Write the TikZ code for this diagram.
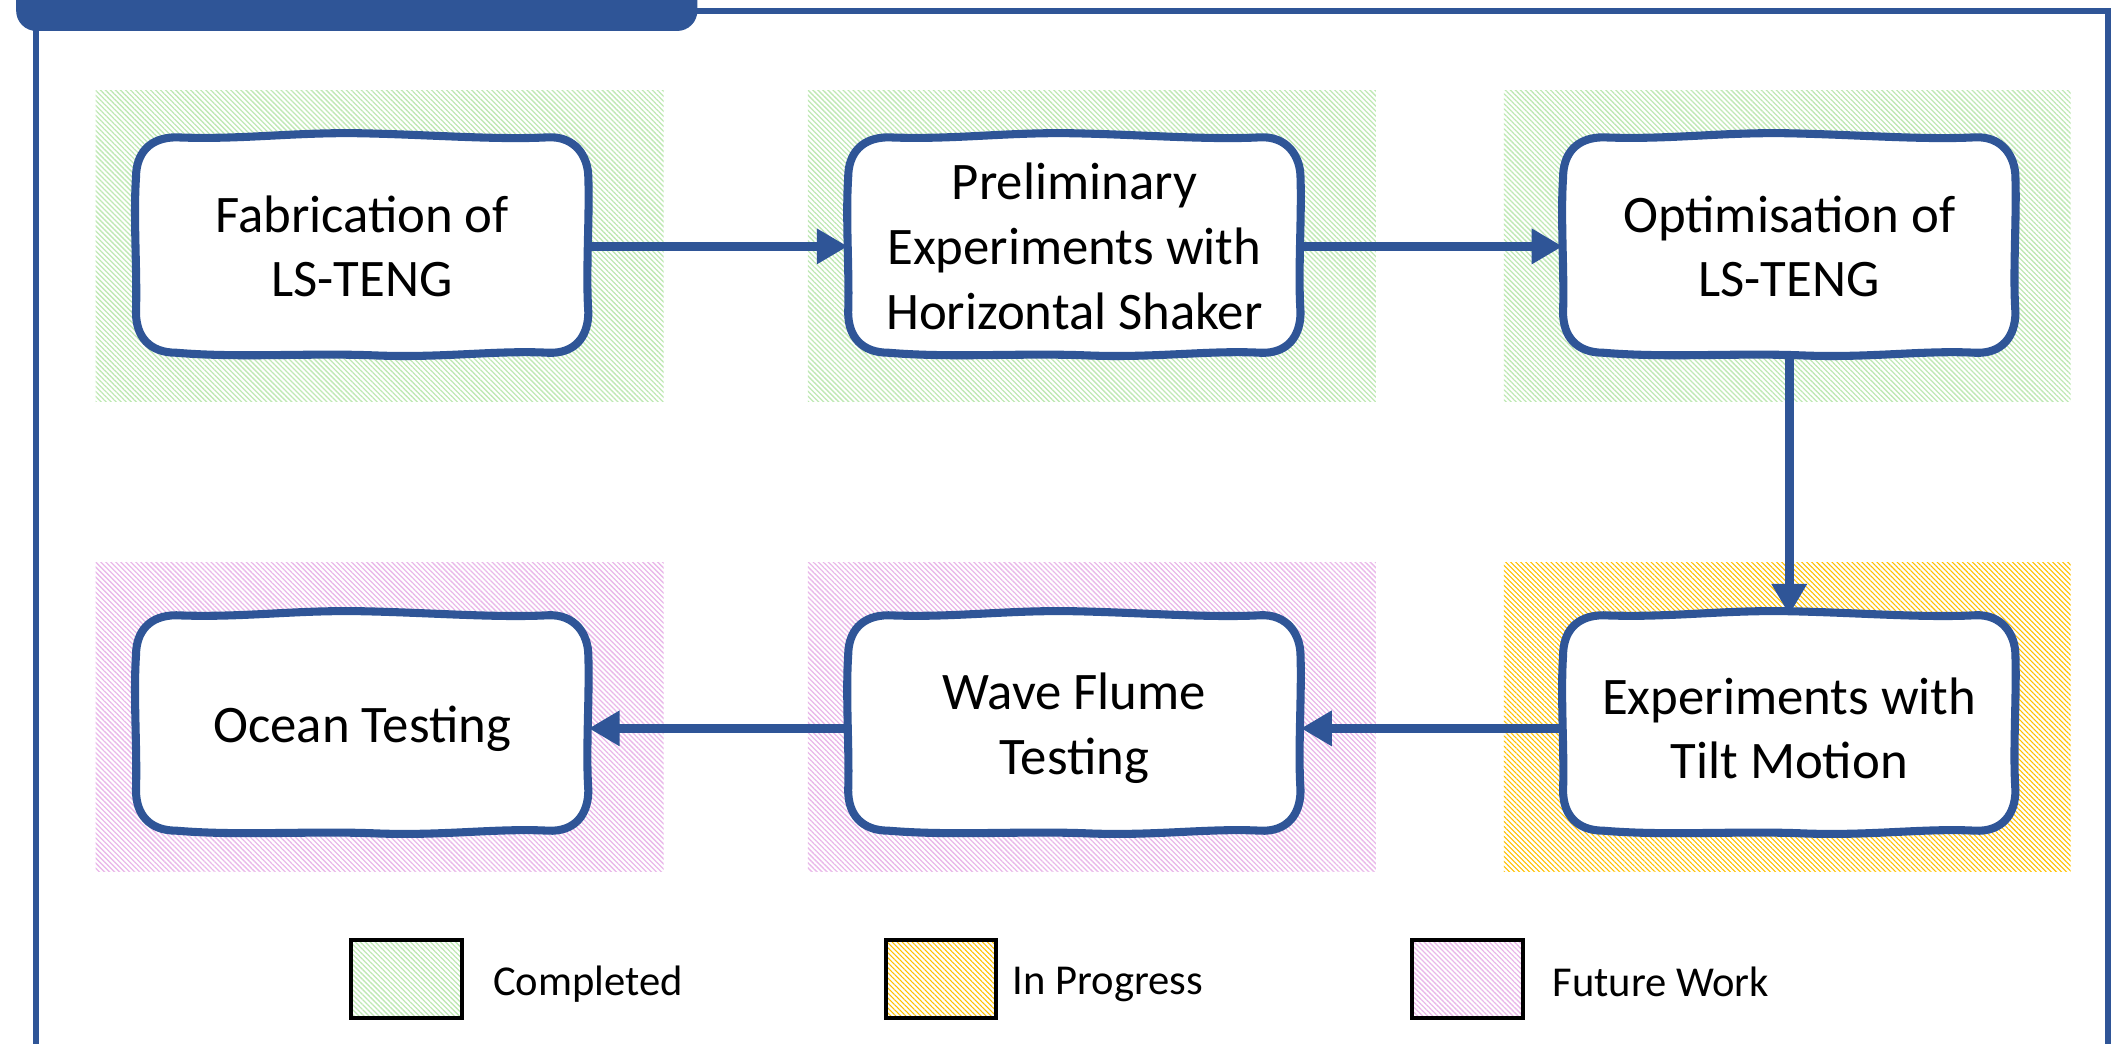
\documentclass[tikz,border=0pt]{standalone}
\usepackage{fontspec}
\setmainfont{Carlito}
\usetikzlibrary{arrows.meta,patterns.meta}
\definecolor{frameblue}{HTML}{2F5597}
\definecolor{donegreen}{HTML}{BFE8B4}
\definecolor{busyyellow}{HTML}{FFC000}
\definecolor{laterpink}{HTML}{E9B8E9}
\tikzset{
  boxline/.style={draw=frameblue, line width=0.12cm, fill=white, line join=round},
  card/.style={shape=rectangle, minimum width=6.72cm, minimum height=3.2cm, inner sep=0pt,
    align=center, font=\fontsize{22.3}{27.3}\selectfont},
  flow/.style={draw=frameblue, line width=0.14cm, -{Triangle[length=0.46cm,width=0.5cm]}},
  hatchgreen/.style={pattern={Lines[angle=-45,distance=1.5pt,line width=0.55pt]}, pattern color=donegreen},
  hatchyellow/.style={pattern={Lines[angle=-45,distance=1.5pt,line width=0.45pt]}, pattern color=busyyellow},
  hatchpink/.style={pattern={Lines[angle=-45,distance=1.5pt,line width=0.55pt]}, pattern color=laterpink},
  keybox/.style={shape=rectangle, draw=black, line width=0.06cm, minimum width=1.64cm, minimum height=1.16cm, inner sep=0pt},
  keytext/.style={anchor=west, inner sep=0pt, font=\fontsize{18}{22}\selectfont},
  wavycard/.pic={
    \draw[boxline]
      (-138,-80) .. controls (-90,-78) and (-50,-84) .. (0,-83)
      .. controls (50,-82) and (100,-78) .. (138,-80)
      .. controls (158,-81) and (168,-66) .. (168,-50)
      .. controls (169,-20) and (166,20) .. (168,50)
      .. controls (168,68) and (158,81) .. (138,80)
      .. controls (100,78) and (60,84) .. (10,82)
      .. controls (-40,80) and (-90,84) .. (-138,80)
      .. controls (-158,80) and (-168,68) .. (-168,50)
      .. controls (-167,20) and (-170,-20) .. (-168,-50)
      .. controls (-168,-68) and (-158,-80) .. (-138,-80) -- cycle;
  }
}
\begin{document}
\begin{tikzpicture}[x=0.02cm, y=-0.02cm]
\useasboundingbox (0,0) rectangle (1568,775);
\clip (0,0) rectangle (1568,775);

% outer frame and title tab
\draw[frameblue, line width=0.09cm] (27,800) -- (27,8) -- (1566,8) -- (1566,800);
\fill[frameblue, rounded corners=0.3cm] (12,-30) -- (12,23) -- (518,23) -- (518,-30) -- cycle;

% status backgrounds
\fill[hatchgreen]  (71,67) rectangle (493,298);
\fill[hatchgreen]  (600,67) rectangle (1022,298);
\fill[hatchgreen]  (1117,67) rectangle (1538,298);
\fill[hatchpink]   (71,418) rectangle (493,647);
\fill[hatchpink]   (600,418) rectangle (1022,647);
\fill[hatchyellow] (1117,418) rectangle (1538,647);

% process steps
\pic at (269,182) {wavycard};
\node[card] (fab) at (269,183) {Fabrication of\\LS-TENG};
\pic at (798,182) {wavycard};
\node[card] (prelim) at (798,183) {Preliminary\\Experiments with\\Horizontal Shaker};
\pic at (1329,182) {wavycard};
\node[card] (optim) at (1329,183) {Optimisation of\\LS-TENG};
\pic at (1329,537) {wavycard};
\node[card] (tilt) at (1329,541) {Experiments with\\Tilt Motion};
\pic at (798,537) {wavycard};
\node[card] (flume) at (798,541) {Wave Flume\\Testing};
\pic at (269,537) {wavycard};
\node[card] (ocean) at (269,541) {Ocean Testing};

% connectors
\draw[flow] (fab) -- (prelim);
\draw[flow] (prelim) -- (optim);
\draw[flow, shorten >=0.08cm] (optim) -- (tilt);
\draw[flow] (tilt) -- (flume);
\draw[flow] (flume) -- (ocean);

% legend
\node[keybox, hatchgreen] (kdone) at (302,727) {};
\node[keytext] (tdone) at (366,731) {Completed};
\node[keybox, hatchyellow] (kbusy) at (699,727) {};
\node[keytext] (tbusy) at (752,731) {In Progress};
\node[keybox, hatchpink] (klater) at (1090,727) {};
\node[keytext] (tlater) at (1153,729) {Future Work};
\end{tikzpicture}
\end{document}
